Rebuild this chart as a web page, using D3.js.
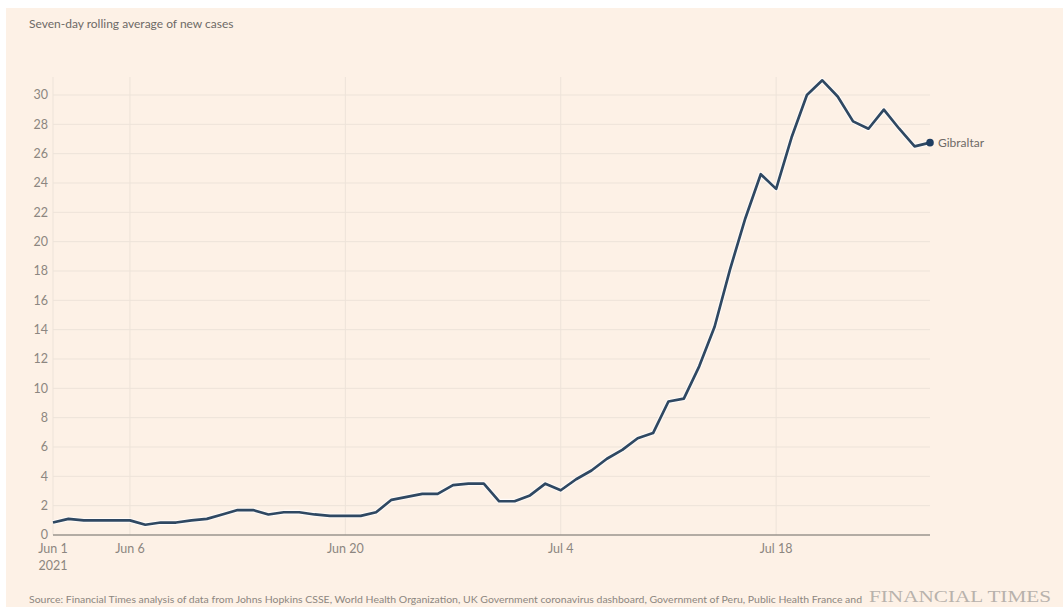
<!DOCTYPE html>
<html lang="en">
<head>
  <meta charset="UTF-8">
  <title>Gibraltar seven-day rolling average of new cases</title>
  <script src="https://d3js.org/d3.v7.min.js"></script>
  <style>
    body {
      margin: 0;
      background: #ffffff;
      font-family: Lato, "Open Sans", sans-serif;
    }
    svg { display: block; }
  </style>
</head>
<body>
<svg width="1063" height="607"></svg>

<script>
  // Daily values, Jun 1 to Jul 28 2021
  const startDate = new Date(2021, 5, 1);
  const cases = [
    0.85, 1.1, 1.0, 1.0, 1.0, 1.0, 0.7, 0.85, 0.85, 1.0,
    1.1, 1.4, 1.7, 1.7, 1.4, 1.55, 1.55, 1.4, 1.3, 1.3,
    1.3, 1.55, 2.4, 2.6, 2.8, 2.8, 3.4, 3.5, 3.5, 2.3,
    2.3, 2.7, 3.5, 3.05, 3.8, 4.4, 5.2, 5.8, 6.6, 6.95,
    9.1, 9.3, 11.5, 14.2, 18.1, 21.6, 24.6, 23.6, 27.1, 30.0,
    31.0, 29.9, 28.2, 27.7, 29.0, 27.7, 26.5, 26.75
  ];
  const yTicks = d3.range(0, 31, 2);
  const xTickDates = [new Date(2021, 5, 1), new Date(2021, 5, 6), new Date(2021, 5, 20),
                      new Date(2021, 6, 4), new Date(2021, 6, 18)];
  const seriesName = "Gibraltar";

  const data = cases.map((v, i) => ({ date: d3.timeDay.offset(startDate, i), value: v }));

  const svg = d3.select("svg");
  const margin = { left: 53, right: 133, top: 77, bottom: 72 };
  const width = 1063, height = 607;

  // Background panel
  svg.append("rect")
    .attr("x", 6).attr("y", 8)
    .attr("width", width - 6).attr("height", height - 8)
    .attr("fill", "#fdf1e6");

  const x = d3.scaleTime()
    .domain(d3.extent(data, d => d.date))
    .range([margin.left, width - margin.right]);

  const y = d3.scaleLinear()
    .domain([0, 30])
    .range([535, 95]);

  // Horizontal gridlines
  svg.append("g")
    .selectAll("line")
    .data(yTicks.filter(t => t > 0))
    .join("line")
    .attr("x1", margin.left).attr("x2", width - margin.right)
    .attr("y1", d => y(d)).attr("y2", d => y(d))
    .attr("stroke", "#ede3d9")
    .attr("stroke-width", 1);

  // Vertical gridlines
  svg.append("g")
    .selectAll("line")
    .data(xTickDates)
    .join("line")
    .attr("x1", d => x(d)).attr("x2", d => x(d))
    .attr("y1", margin.top).attr("y2", y(0))
    .attr("stroke", "#ede3d9")
    .attr("stroke-width", 1);

  // Y labels
  svg.append("g")
    .selectAll("text")
    .data(yTicks)
    .join("text")
    .attr("x", 48)
    .attr("y", d => y(d))
    .attr("dy", "0.35em")
    .attr("text-anchor", "end")
    .attr("fill", "#8c8680")
    .style("font-size", "12.5px")
    .text(d => d);

  // Baseline
  svg.append("line")
    .attr("x1", margin.left).attr("x2", width - margin.right)
    .attr("y1", y(0)).attr("y2", y(0))
    .attr("stroke", "#9a948e")
    .attr("stroke-width", 1.5);

  // X labels
  const fmt = d3.timeFormat("%b %-d");
  svg.append("g")
    .selectAll("text")
    .data(xTickDates)
    .join("text")
    .attr("x", d => x(d))
    .attr("y", 553)
    .attr("text-anchor", "middle")
    .attr("fill", "#8c8680")
    .style("font-size", "12.5px")
    .text(d => fmt(d));

  svg.append("text")
    .attr("x", x(xTickDates[0]))
    .attr("y", 570)
    .attr("text-anchor", "middle")
    .attr("fill", "#8c8680")
    .style("font-size", "12.5px")
    .text("2021");

  // Line
  const line = d3.line()
    .x(d => x(d.date))
    .y(d => y(d.value));

  svg.append("path")
    .datum(data)
    .attr("fill", "none")
    .attr("stroke", "#ffffff")
    .attr("stroke-opacity", 0.7)
    .attr("stroke-width", 4.8)
    .attr("stroke-linejoin", "round")
    .attr("d", line);

  svg.append("path")
    .datum(data)
    .attr("fill", "none")
    .attr("stroke", "#2f4862")
    .attr("stroke-width", 2.7)
    .attr("stroke-linejoin", "round")
    .attr("d", line);

  const last = data[data.length - 1];
  svg.append("circle")
    .attr("cx", x(last.date))
    .attr("cy", y(last.value))
    .attr("r", 3.8)
    .attr("fill", "#1f3e62");

  svg.append("text")
    .attr("x", x(last.date) + 8)
    .attr("y", y(last.value))
    .attr("dy", "0.35em")
    .attr("fill", "#6e6a66")
    .style("font-size", "12px")
    .text(seriesName);

  // Title
  svg.append("text")
    .attr("x", 29)
    .attr("y", 28)
    .attr("fill", "#6e6a66")
    .style("font-size", "12px")
    .text("Seven-day rolling average of new cases");

  // Source and logo
  svg.append("text")
    .attr("x", 29)
    .attr("y", 603)
    .attr("fill", "#8c8680")
    .attr("textLength", 833)
    .attr("lengthAdjust", "spacingAndGlyphs")
    .style("font-size", "9px")
    .text("Source: Financial Times analysis of data from Johns Hopkins CSSE, World Health Organization, UK Government coronavirus dashboard, Government of Peru, Public Health France and");

  svg.append("text")
    .attr("x", 869)
    .attr("y", 602)
    .attr("fill", "#b8b2ac")
    .attr("textLength", 182)
    .attr("lengthAdjust", "spacingAndGlyphs")
    .style("font-family", "'Liberation Serif', 'DejaVu Serif', serif")
    .style("font-size", "17px")
    .text("FINANCIAL TIMES");
</script>
</body>
</html>
